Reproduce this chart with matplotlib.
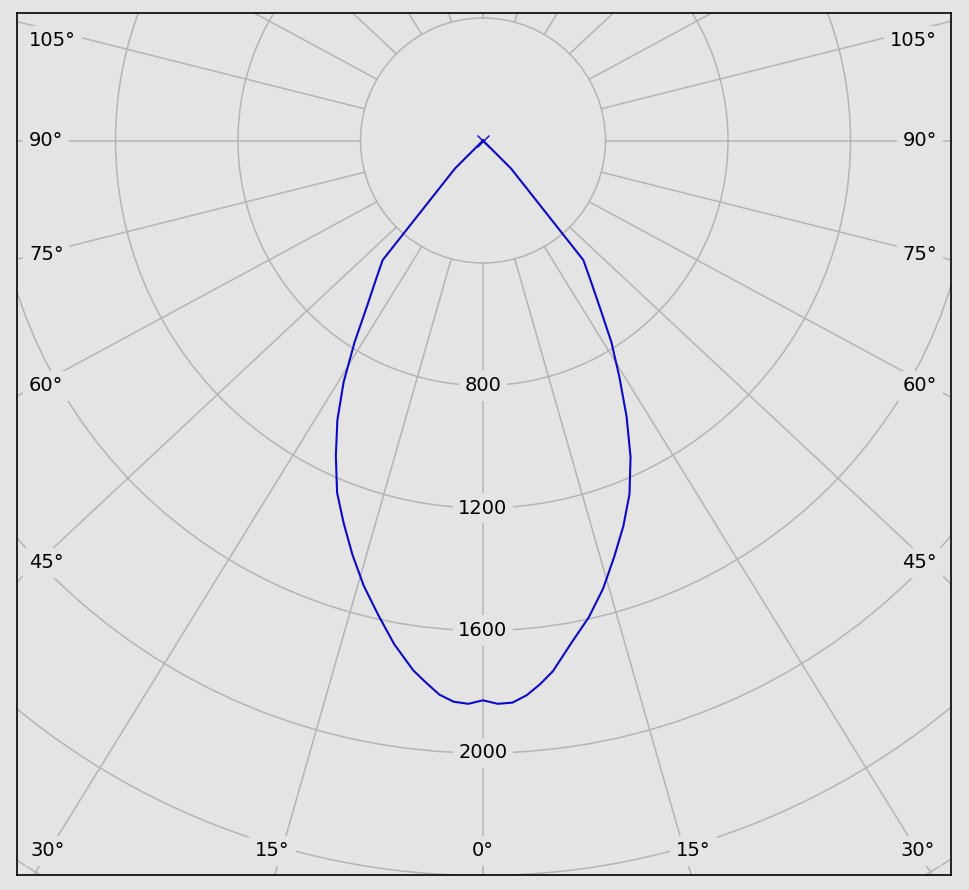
import numpy as np
import matplotlib
matplotlib.use('Agg')
import matplotlib.pyplot as plt
from matplotlib.patches import Circle

#* Data: luminous intensity (cd) per gamma angle, both half planes
GAMMA = [0, 1.5, 3, 4.5, 6, 7.5, 10, 12.5, 15, 17.5, 20, 22.5, 25, 27.5,
         30, 32.5, 35, 37.5, 40, 45, 50, 90]
I_LEFT = [1828, 1840, 1835, 1815, 1780, 1745, 1670, 1585, 1505, 1418, 1330,
          1245, 1137, 1030, 910, 780, 660, 576, 510, 130, 0, 0]
I_RIGHT = [1828, 1840, 1838, 1817, 1785, 1748, 1665, 1595, 1515, 1425, 1340,
           1250, 1140, 1015, 890, 780, 665, 578, 510, 130, 0, 0]

RINGS = [400, 800, 1200, 1600, 2000, 2400, 2800]
RING_LABELS = [800, 1200, 1600, 2000]
SPOKES = list(range(0, 181, 15))
ANGLE_LABELS = [0, 15, 30, 45, 60, 75, 90, 105]

#* Layout (pixels)
W, H = 969, 890
PX = 400 / 122.5          # cd per pixel
CX, CY = 483, 140.5       # pole position
LEFT, TOP, RIGHT, BOTTOM = 17, 13, 951, 875
K = 1.06                  # spoke stretch seen in the original renderer

BG = '#e4e4e4'
GRID = '#b4b4b4'
BLUE = '#0a0ac8'

plt.rcParams['font.family'] = 'DejaVu Sans'
plt.rcParams['font.size'] = 14

fig = plt.figure(figsize=(W / 100, H / 100), dpi=100, facecolor=BG)
ax = fig.add_axes([LEFT / W, 1 - BOTTOM / H, (RIGHT - LEFT) / W, (BOTTOM - TOP) / H])
ax.set_facecolor(BG)
ax.set_xlim((LEFT - CX) * PX, (RIGHT - CX) * PX)
ax.set_ylim(-(BOTTOM - CY) * PX, (CY - TOP) * PX)
ax.set_xticks([])
ax.set_yticks([])
for sp in ax.spines.values():
    sp.set_color('black')
    sp.set_linewidth(1.2)

# rings
for r in RINGS:
    ax.add_patch(Circle((0, 0), r, fill=False, ec=GRID, lw=1.1, zorder=1))

R0 = RINGS[0]


def spoke(theta, sg):
    t = np.radians(theta)
    p0 = np.array([sg * R0 * np.sin(t), -R0 * np.cos(t)])
    p1 = np.array([sg * 3000 * K * np.sin(t), -3000 * np.cos(t)])
    return p0, p1 - p0


# spokes
for th in SPOKES:
    for sg in ([1] if th in (0, 180) else [-1, 1]):
        p0, d = spoke(th, sg)
        p2 = p0 + 3 * d
        ax.plot([p0[0], p2[0]], [p0[1], p2[1]], color=GRID, lw=1.1, zorder=1)

box = dict(boxstyle='square,pad=0.3', fc=BG, ec='none')

# angle labels near the frame
X_LAB = (CX - 48) * PX
X_EDGE = (CX - 29) * PX
Y_LAB = -(851 - CY) * PX
Y_TOP = (CY - 41) * PX
for th in ANGLE_LABELS:
    for sg in ([1] if th == 0 else [-1, 1]):
        p0, d = spoke(th, sg)
        cands = []
        if abs(d[0]) > 1e-9:
            cands.append(((sg * X_LAB - p0[0]) / d[0], 'side'))
        if d[1] < -1e-9:
            cands.append(((Y_LAB - p0[1]) / d[1], 'bottom'))
        s, where = min(cands)
        x, y = p0 + s * d
        if where == 'side':
            y -= 0.22 * max(90 - th, 0) * PX
            y = min(y, Y_TOP)
            ax.text(sg * X_EDGE, y, f'{th}°', ha='left' if sg < 0 else 'right',
                    va='center', bbox=box, zorder=3)
        else:
            x += sg * 0.6 * th * PX
            x = max(min(x, X_LAB), -X_LAB)
            ax.text(x, y, f'{th}°', ha='center', va='center', bbox=box, zorder=3)

# ring labels
for r in RING_LABELS:
    ax.text(0, -r, str(r), ha='center', va='center', bbox=box, zorder=3)

# intensity curve
g = np.radians(GAMMA)
il = np.array(I_LEFT)
ir = np.array(I_RIGHT)
xs = np.concatenate([(-il * np.sin(g))[::-1], ir * np.sin(g)])
ys = np.concatenate([(-il * np.cos(g))[::-1], -ir * np.cos(g)])
ax.plot(xs, ys, color=BLUE, lw=1.5, zorder=4)
ax.plot(0, 0, marker='x', color=BLUE, ms=8, mew=1, zorder=5)

fig.savefig('out.png', dpi=100, facecolor=BG)
